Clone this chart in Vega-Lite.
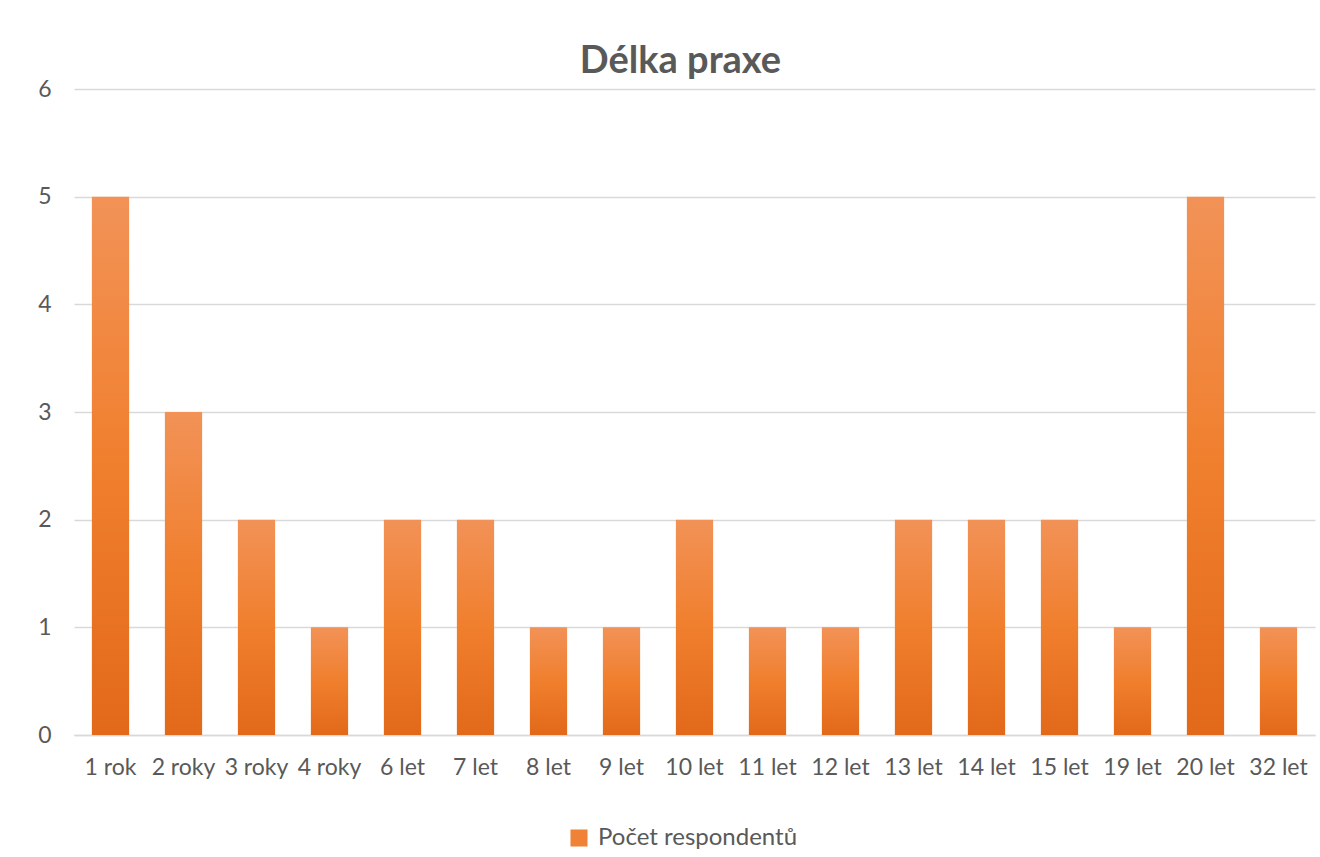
{
  "$schema": "https://vega.github.io/schema/vega-lite/v6.json",
  "width": 1241,
  "height": 646,
  "autosize": {"type": "none"},
  "padding": {"left": 74, "top": 89, "right": 5, "bottom": 122},
  "background": "white",
  "config": {"view": {"stroke": null}},
  "title": {
    "text": "Délka praxe",
    "font": "Lato",
    "fontSize": 38,
    "fontWeight": "bold",
    "color": "#595959",
    "offset": -3,
    "dx": -14
  },
  "data": {
    "values": [
      {"praxe": "1 rok", "pocet": 5},
      {"praxe": "2 roky", "pocet": 3},
      {"praxe": "3 roky", "pocet": 2},
      {"praxe": "4 roky", "pocet": 1},
      {"praxe": "6 let", "pocet": 2},
      {"praxe": "7 let", "pocet": 2},
      {"praxe": "8 let", "pocet": 1},
      {"praxe": "9 let", "pocet": 1},
      {"praxe": "10 let", "pocet": 2},
      {"praxe": "11 let", "pocet": 1},
      {"praxe": "12 let", "pocet": 1},
      {"praxe": "13 let", "pocet": 2},
      {"praxe": "14 let", "pocet": 2},
      {"praxe": "15 let", "pocet": 2},
      {"praxe": "19 let", "pocet": 1},
      {"praxe": "20 let", "pocet": 5},
      {"praxe": "32 let", "pocet": 1}
    ]
  },
  "encoding": {
    "x": {
      "field": "praxe",
      "type": "nominal",
      "sort": null,
      "scale": {"paddingInner": 0.49, "paddingOuter": 0.245},
      "axis": {
        "title": null,
        "labelAngle": 0,
        "labelFont": "Lato",
        "labelFontSize": 23,
        "labelColor": "#595959",
        "labelPadding": 21,
        "labelLimit": 0,
        "ticks": false,
        "domainColor": "#D9D9D9",
        "domainWidth": 1.5,
        "grid": false
      }
    }
  },
  "layer": [
    {
      "mark": {
        "type": "bar",
        "color": {
          "gradient": "linear",
          "x1": 0, "y1": 0, "x2": 0, "y2": 1,
          "stops": [
            {"offset": 0, "color": "#F29257"},
            {"offset": 0.5, "color": "#F07F2D"},
            {"offset": 1, "color": "#E2691A"}
          ]
        }
      },
      "encoding": {
        "y": {
          "field": "pocet",
          "type": "quantitative",
          "scale": {"domain": [0, 6]},
          "axis": {
            "title": null,
            "values": [0, 1, 2, 3, 4, 5, 6],
            "format": "d",
            "labelFont": "Lato",
            "labelFontSize": 23,
            "labelColor": "#595959",
            "labelPadding": 23,
            "ticks": false,
            "domain": false,
            "grid": true,
            "gridColor": "#D9D9D9",
            "gridWidth": 1.5
          }
        }
      }
    },
    {
      "mark": {"type": "bar"},
      "encoding": {
        "y": {"datum": 0, "type": "quantitative"},
        "color": {
          "datum": "Počet respondentů",
          "type": "nominal",
          "scale": {"range": ["#EF8236"]},
          "legend": {
            "title": null,
            "orient": "none",
            "legendX": 493,
            "legendY": 737,
            "symbolType": "square",
            "symbolSize": 290,
            "symbolStrokeWidth": 0,
            "labelFont": "Lato",
            "labelFontSize": 24,
            "labelColor": "#595959",
            "labelOffset": 7,
            "labelLimit": 0
          }
        }
      }
    }
  ]
}
